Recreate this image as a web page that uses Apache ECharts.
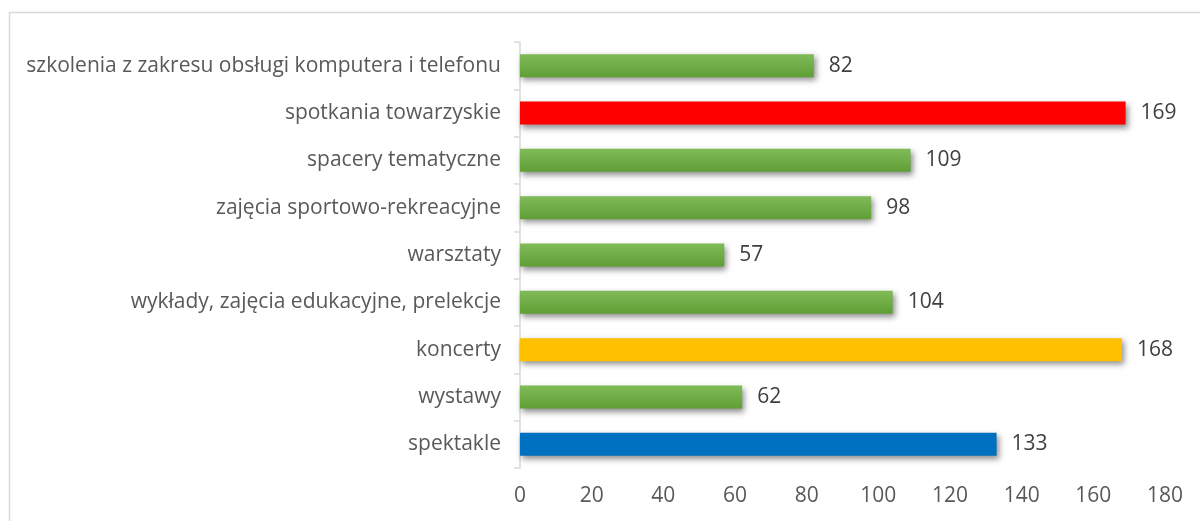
<!DOCTYPE html>
<html>
<head>
<meta charset="utf-8">
<script src="https://cdn.jsdelivr.net/npm/echarts@6/dist/echarts.min.js"></script>
<style>
html,body{margin:0;padding:0;background:#fff;}
#chart{width:1200px;height:521px;}
</style>
</head>
<body>
<div id="chart"></div>
<script>
const categories = [
  'spektakle',
  'wystawy',
  'koncerty',
  'wykłady, zajęcia edukacyjne, prelekcje',
  'warsztaty',
  'zajęcia sportowo-rekreacyjne',
  'spacery tematyczne',
  'spotkania towarzyskie',
  'szkolenia z zakresu obsługi komputera i telefonu'
];
const values = [133, 62, 168, 104, 57, 98, 109, 169, 82];
const xTicks = [0, 20, 40, 60, 80, 100, 120, 140, 160, 180];

const green = new echarts.graphic.LinearGradient(0, 0, 0, 1, [
  {offset: 0, color: '#80bb58'},
  {offset: 1, color: '#5f9f35'}
]);
const specialColors = {
  'spektakle': '#0070c0',
  'koncerty': '#ffc000',
  'spotkania towarzyskie': '#ff0000'
};

const chart = echarts.init(document.getElementById('chart'), null, {renderer: 'canvas'});
const font = '"Open Sans", "Noto Sans", sans-serif';
chart.setOption({
  animation: false,
  backgroundColor: '#fff',
  graphic: [{
    type: 'rect',
    shape: {x: 9.5, y: 12.5, width: 1400, height: 700},
    style: {fill: 'none', stroke: '#d9d9d9', lineWidth: 1.5},
    silent: true
  }],
  grid: {left: 520, right: 35, top: 42, bottom: 53, containLabel: false},
  xAxis: {
    type: 'value',
    min: xTicks[0],
    max: xTicks[xTicks.length - 1],
    interval: xTicks[1] - xTicks[0],
    axisLine: {show: false},
    axisTick: {show: false},
    splitLine: {show: false},
    axisLabel: {color: '#595959', fontSize: 21, fontFamily: font, margin: 18}
  },
  yAxis: {
    type: 'category',
    data: categories,
    axisLine: {show: true, lineStyle: {color: '#d9d9d9', width: 1.5}},
    axisTick: {show: true, length: 6, lineStyle: {color: '#d9d9d9', width: 1.5}},
    axisLabel: {color: '#595959', fontSize: 21, fontFamily: font, margin: 19}
  },
  series: [{
    type: 'bar',
    barWidth: 23,
    data: values.map((v, i) => ({
      value: v,
      itemStyle: {color: specialColors[categories[i]] || green}
    })),
    itemStyle: {
      shadowColor: 'rgba(0,0,0,0.45)',
      shadowBlur: 6,
      shadowOffsetX: 2,
      shadowOffsetY: 3
    },
    label: {
      show: true,
      position: 'right',
      distance: 15,
      color: '#404040',
      fontSize: 21,
      fontFamily: font
    }
  }]
});
</script>
</body>
</html>
